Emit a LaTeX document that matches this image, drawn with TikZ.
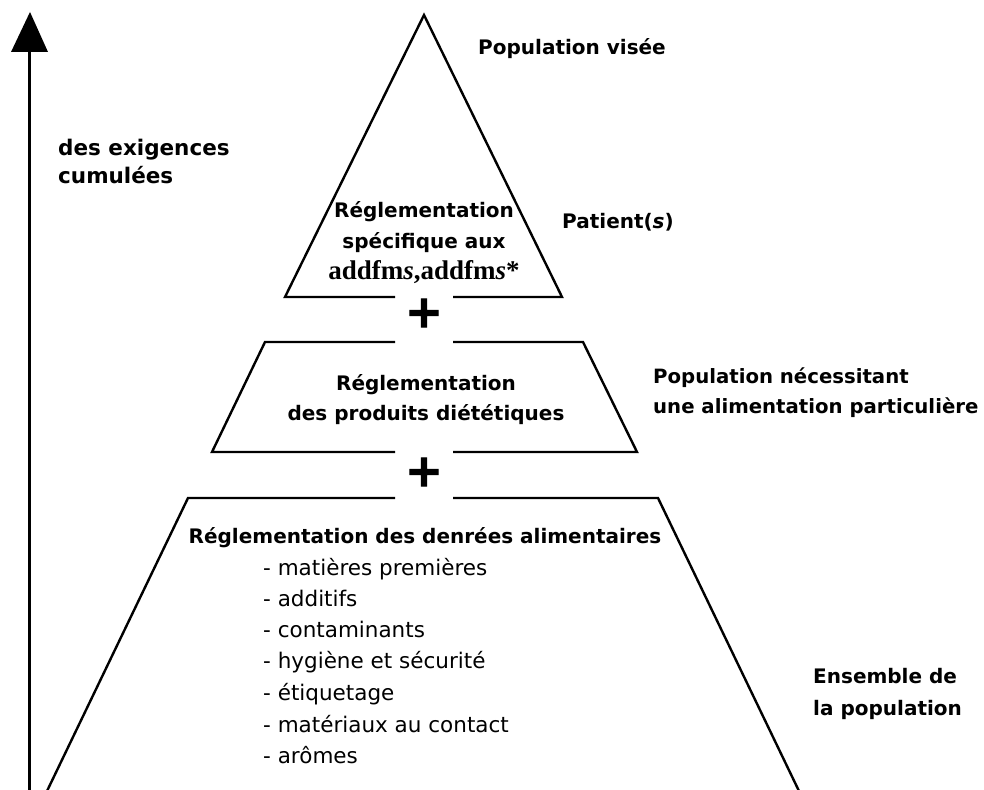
\documentclass[tikz,border=0pt]{standalone}
\usepackage{fontspec}
\setmainfont{DejaVu Sans}
\newfontfamily\serifface{Liberation Serif}
\newfontfamily\heavyplus[FakeBold=2]{DejaVu Sans Bold}
\begin{document}
\begin{tikzpicture}[x=1pt,y=-1pt,
  level/.style={line width=2.4pt, line join=miter, line cap=butt},
  boldtxt/.style={inner sep=0, align=center, font=\bfseries\fontsize{20}{30}\selectfont},
  sidetxt/.style={inner sep=0, align=left, anchor=base west, font=\bfseries\fontsize{20}{30}\selectfont},
  itemtxt/.style={inner sep=0, anchor=base west, font=\fontsize{21.5}{31}\selectfont},
  plustxt/.style={inner sep=0, font=\heavyplus\fontsize{45}{45}\selectfont}]
\useasboundingbox (0,0) rectangle (984,789);
\clip (0,0) rectangle (984,789);

% vertical axis with a solid triangular head
\coordinate (axisfoot) at (29.5,800);
\coordinate (axishead) at (29.5,52);
\draw[line width=2.2pt] (axisfoot) -- (axishead);
\fill (11,52) -- (30,12) -- (48,52) -- cycle;

% top level: triangle with an opening in its base
\draw[level] (395,297) -- (285,297) -- (424,15) -- (562,297) -- (453,297);

% middle level: trapezoid with openings top and bottom
\draw[level] (395,342) -- (265,342) -- (212,452) -- (395,452);
\draw[level] (453,342) -- (583,342) -- (637,452) -- (453,452);

% bottom level: wide trapezoid running off the lower edge
\draw[level] (395,498) -- (188,498) -- (42.7,800);
\draw[level] (453,498) -- (658,498) -- (803.3,800);

% plus signs between the levels
\node[plustxt] (plusA) at (424,313) {+};
\node[plustxt] (plusB) at (424,472) {+};

% axis caption (anchored on the baseline of its last line)
\node[sidetxt, font=\bfseries\fontsize{21.5}{28}\selectfont] (axislbl) at (58,183) {des exigences\\cumulées};

% texts inside the levels
\node[boldtxt, anchor=base, font=\bfseries\fontsize{20}{31}\selectfont] (toptxt) at (424,279)
  {Réglementation\\spécifique aux\\{\serifface\bfseries\fontsize{27}{31}\selectfont addfm\textit{s},addfm\textit{s}*}};
\node[boldtxt, anchor=base] (midtxt) at (426,420) {Réglementation\\des produits diététiques};
\node[boldtxt, anchor=base] (bottxt) at (425,543) {Réglementation des denrées alimentaires};

\node[itemtxt] (it1) at (263,575) {- matières premières};
\node[itemtxt] (it2) at (263,606) {- additifs};
\node[itemtxt] (it3) at (263,637) {- contaminants};
\node[itemtxt] (it4) at (263,668) {- hygiène et sécurité};
\node[itemtxt] (it5) at (263,700) {- étiquetage};
\node[itemtxt] (it6) at (263,732) {- matériaux au contact};
\node[itemtxt] (it7) at (263,763) {- arômes};

% population labels on the right
\node[sidetxt] (popvisee) at (478,55) {Population visée};
\node[sidetxt] (patients) at (562,228) {Patient(\textit{s})};
\node[sidetxt, font=\bfseries\fontsize{19.7}{30}\selectfont] (popnec) at (653,413) {Population nécessitant\\une alimentation particulière};
\node[sidetxt, font=\bfseries\fontsize{20}{32}\selectfont] (popall) at (813,715) {Ensemble de\\la population};
\end{tikzpicture}
\end{document}
